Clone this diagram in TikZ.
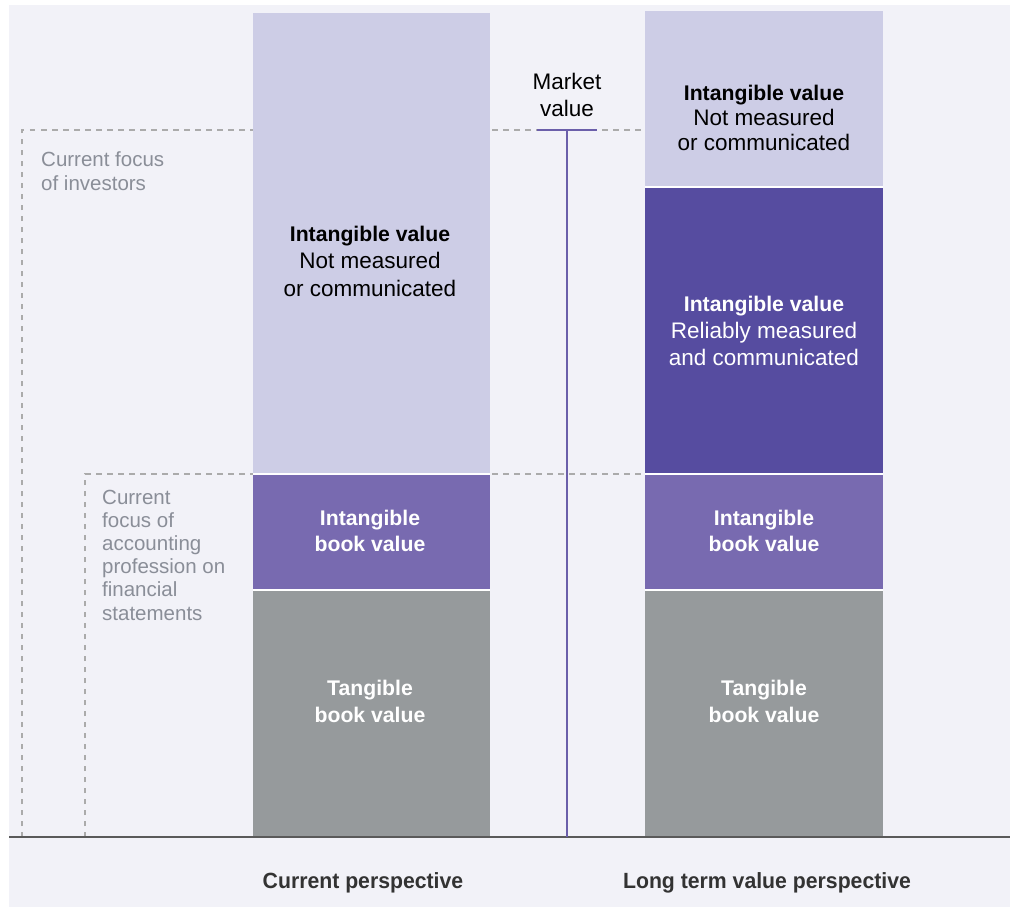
\documentclass[tikz,border=0pt]{standalone}
\usepackage{fontspec}
\setmainfont{Liberation Sans}
\newfontfamily\condfont[FakeStretch=0.965]{Liberation Sans}
\definecolor{bgc}{HTML}{F2F2F8}
\definecolor{lightbar}{HTML}{CDCDE6}
\definecolor{darkbar}{HTML}{564CA0}
\definecolor{midbar}{HTML}{786AB0}
\definecolor{greybar}{HTML}{969A9C}
\definecolor{dashc}{HTML}{ABABAB}
\definecolor{mline}{HTML}{6B5FAA}
\definecolor{greytext}{HTML}{8A8E98}
\definecolor{labeltext}{HTML}{333333}
\definecolor{basec}{HTML}{5A5A5A}
\tikzset{
  seg/.style={inner sep=0pt, outer sep=0pt, anchor=north west, draw=none},
  sep/.style={draw=white, line width=2pt},
  focusline/.style={draw=dashc, line width=1.2pt, dash pattern=on 5.5pt off 5.5pt},
  bartext/.style={align=center, inner sep=0pt, text=black},
  whitetext/.style={align=center, inner sep=0pt, text=white},
  sidetext/.style={align=left, inner sep=0pt, text=greytext, anchor=west},
  persp/.style={inner sep=0pt, text=labeltext, font=\condfont\bfseries\fontsize{22}{26}\selectfont},
}
\begin{document}
\begin{tikzpicture}[x=1pt,y=-1pt]
\useasboundingbox (0,0) rectangle (1010,907);
\fill[white] (0,0) rectangle (1010,907);
\fill[bgc] (9,5) rectangle (1010,907);

% coordinates for dashed focus lines
\coordinate (invtop) at (22,130);
\coordinate (invbot) at (22,837);
\coordinate (acctop) at (85,474);
\coordinate (accbot) at (85,837);
\coordinate (invmid) at (645,130);
\coordinate (accmid) at (645,474);

\draw[focusline] (invbot) -- (invtop) -- (invmid);
\draw[focusline] (accbot) -- (acctop) -- (accmid);

% left bar
\node[seg, fill=lightbar, minimum width=237pt, minimum height=461pt] (l1) at (253,13) {};
\node[seg, fill=midbar, minimum width=237pt, minimum height=116pt] (l2) at (253,474) {};
\node[seg, fill=greybar, minimum width=237pt, minimum height=247pt] (l3) at (253,590) {};
\draw[sep] (l1.south west) -- (l1.south east);
\draw[sep] (l2.south west) -- (l2.south east);

% right bar
\node[seg, fill=lightbar, minimum width=238pt, minimum height=176pt] (r1) at (645,11) {};
\node[seg, fill=darkbar, minimum width=238pt, minimum height=287pt] (r2) at (645,187) {};
\node[seg, fill=midbar, minimum width=238pt, minimum height=116pt] (r3) at (645,474) {};
\node[seg, fill=greybar, minimum width=238pt, minimum height=247pt] (r4) at (645,590) {};
\draw[sep] (r1.south west) -- (r1.south east);
\draw[sep] (r2.south west) -- (r2.south east);
\draw[sep] (r3.south west) -- (r3.south east);

% baseline
\coordinate (baseL) at (9,837);
\coordinate (baseR) at (1010,837);
\draw[basec, line width=1.3pt] (baseL) -- (baseR);

% market value line
\coordinate (mtickL) at (537,130);
\coordinate (mtickR) at (597,130);
\coordinate (mtop) at (567,130);
\coordinate (mbot) at (567,837);
\draw[mline, line width=2.2pt] (mtickL) -- (mtickR);
\draw[mline, line width=1.5pt] (mtop) -- (mbot);
\node[bartext, font=\fontsize{22.5}{27}\selectfont] (mv) at (567,95) {Market\\value};

% texts in left bar
\node[bartext, font=\fontsize{22.5}{27.5}\selectfont] (l1t) at (370,261)
  {{\bfseries\fontsize{21.2}{27.5}\selectfont Intangible value}\\Not measured\\or communicated};
\node[whitetext, font=\bfseries\fontsize{21.2}{26}\selectfont] (l2t) at (370,531) {Intangible\\book value};
\node[whitetext, font=\bfseries\fontsize{21.2}{27}\selectfont] (l3t) at (370,701) {Tangible\\book value};

% texts in right bar
\node[bartext, font=\fontsize{22.5}{25}\selectfont] (r1t) at (764,118)
  {{\bfseries\fontsize{21.2}{25}\selectfont Intangible value}\\Not measured\\or communicated};
\node[whitetext, font=\fontsize{22.5}{27}\selectfont] (r2t) at (764,331)
  {{\bfseries\fontsize{21.2}{27}\selectfont Intangible value}\\Reliably measured\\and communicated};
\node[whitetext, font=\bfseries\fontsize{21.2}{26}\selectfont] (r3t) at (764,531) {Intangible\\book value};
\node[whitetext, font=\bfseries\fontsize{21.2}{27}\selectfont] (r4t) at (764,701) {Tangible\\book value};

% side texts
\node[sidetext, font=\fontsize{20.5}{24}\selectfont] (invt) at (41,171) {Current focus\\of investors};
\node[sidetext, font=\fontsize{20.5}{23.2}\selectfont] (acct) at (102,555)
  {Current\\focus of\\accounting\\profession on\\financial\\statements};

% perspective labels
\node[persp] (cp) at (363,883) {Current perspective};
\node[persp] (lp) at (767,883) {Long term value perspective};
\end{tikzpicture}
\end{document}
